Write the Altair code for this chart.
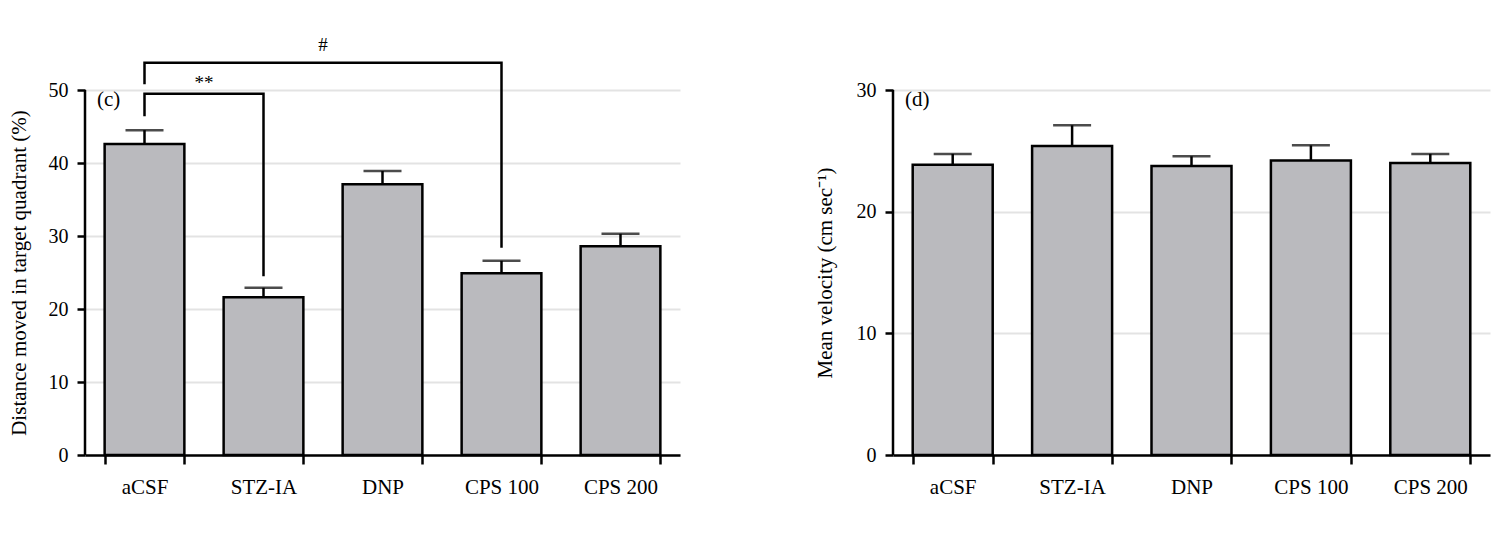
import altair as alt
import pandas as pd

FONT = "Liberation Serif"

groups = ["aCSF", "STZ-IA", "DNP", "CPS 100", "CPS 200"]

# Panel (c): distance moved in target quadrant (%)
dist_mean = [42.6, 21.6, 37.1, 24.9, 28.6]
dist_sem = [1.9, 1.3, 1.8, 1.7, 1.7]
dist_ticks = [0, 10, 20, 30, 40, 50]

# Panel (d): mean velocity (cm/sec)
vel_mean = [23.85, 25.4, 23.75, 24.2, 24.0]
vel_sem = [0.9, 1.7, 0.8, 1.25, 0.75]
vel_ticks = [0, 10, 20, 30]

# Significance brackets (vertices in order)
bracket_id = ["**", "**", "**", "**", "#", "#", "#", "#"]
bracket_group = ["aCSF", "aCSF", "STZ-IA", "STZ-IA", "aCSF", "aCSF", "CPS 100", "CPS 100"]
bracket_y = [46.4, 49.5, 49.5, 24.5, 50.8, 53.75, 53.75, 28.4]
bracket_order = [0, 1, 2, 3, 0, 1, 2, 3]

# Significance marks: placed half a band step to the right of the given group
sig_text = ["**", "#"]
sig_group = ["aCSF", "STZ-IA"]
sig_y = [50.9, 56.1]

PLOT_H = 425
AXIS_H = 365


def panel(means, sems, ticks, title, title_x, width, label, label_y, extra=None):
    ymax = ticks[-1] * PLOT_H / AXIS_H
    df = pd.DataFrame({"group": groups, "mean": means, "sem": sems})
    df["top"] = df["mean"] + df["sem"]

    xaxis = alt.Axis(tickBand="extent", labelAngle=0, domainColor="black", domainWidth=2.5,
                     tickColor="black", tickWidth=2.5, tickSize=9, labelPadding=12,
                     labelFont=FONT, labelFontSize=21, labelColor="black", grid=False,
                     title=None)
    xenc = alt.X("group:N", sort=groups,
                 scale=alt.Scale(domain=groups, paddingInner=0.33, paddingOuter=0.165),
                 axis=xaxis, title=None)
    yscale = alt.Scale(domain=[0, ymax], nice=False, zero=True)
    yaxis = alt.Axis(values=ticks, domain=False, grid=True, gridColor="#e3e3e3", gridWidth=2,
                     tickColor="black", tickWidth=2.5, tickSize=8, labelPadding=9,
                     labelFont=FONT, labelFontSize=20, labelColor="black",
                     titleFont=FONT, titleFontSize=21, titleFontWeight="normal",
                     titleColor="black", titleX=title_x, titleY=PLOT_H - AXIS_H / 2,
                     titleBaseline="middle", titleAlign="center")

    def Y(field):
        return alt.Y(field, scale=yscale, axis=yaxis, title=title)

    base = alt.Chart(df)
    bars = base.mark_bar(fill="#bababe", stroke="black", strokeWidth=2.5).encode(
        x=xenc, y=Y("mean:Q"))
    err = base.mark_rule(color="black", strokeWidth=2.5).encode(
        x=xenc, y=Y("mean:Q"), y2="top:Q")
    cap = base.mark_tick(color="black", thickness=2.5, size=38).encode(
        x=xenc, y=Y("top:Q"))

    axis_df = pd.DataFrame({"y0": [0], "y1": [ticks[-1]]})
    yline = alt.Chart(axis_df).mark_rule(color="black", strokeWidth=2.5).encode(
        x=alt.value(0), y=Y("y0:Q"), y2="y1:Q")

    lab_df = pd.DataFrame({"t": [label], "y": [label_y]})
    lab = alt.Chart(lab_df).mark_text(align="left", baseline="middle", font=FONT,
                                      fontSize=21, color="black").encode(
        x=alt.value(12), y=Y("y:Q"), text="t:N")

    layers = [bars, err, cap, yline, lab]
    if extra is not None:
        layers += extra(xenc, Y)
    return alt.layer(*layers).properties(width=width, height=PLOT_H)


def brackets(xenc, Y):
    bdf = pd.DataFrame({"id": bracket_id, "group": bracket_group,
                        "y": bracket_y, "o": bracket_order})
    lines = alt.Chart(bdf).mark_line(color="black", strokeWidth=2.5,
                                     strokeJoin="miter").encode(
        x=xenc, y=Y("y:Q"), detail="id:N", order="o:Q")
    sdf = pd.DataFrame({"group": sig_group, "y": sig_y, "t": sig_text})
    txt = alt.Chart(sdf).mark_text(font=FONT, fontSize=19, color="black", dx=59.5,
                                   baseline="middle").encode(x=xenc, y=Y("y:Q"), text="t:N")
    return [lines, txt]


left = panel(dist_mean, dist_sem, dist_ticks, "Distance moved in target quadrant (%)",
             -66, 595, "(c)", 48.6, extra=brackets)
right = panel(vel_mean, vel_sem, vel_ticks, "Mean velocity (cm sec\u207b\u00b9)",
              -68, 597, "(d)", 29.2)

chart = alt.hconcat(left, right, spacing=134).properties(
    padding={"left": 8, "top": 30, "right": 5, "bottom": 5},
    background="white",
).configure_view(stroke=None)

chart.save("out.html", embed_options={"renderer": "svg", "actions": False})
